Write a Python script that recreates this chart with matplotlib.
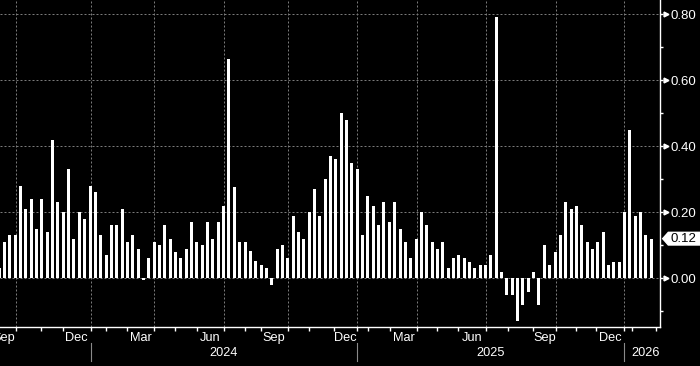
import numpy as np
import matplotlib
matplotlib.use('Agg')
from matplotlib import pyplot as plt
from matplotlib import transforms
from matplotlib.patches import Polygon

plt.rcParams['font.family'] = ['Liberation Sans', 'DejaVu Sans']

# weekly values, oldest first
values = [0.03, 0.11, 0.13, 0.13, 0.28, 0.21, 0.24, 0.15, 0.24, 0.14,
          0.42, 0.23, 0.20, 0.33, 0.12, 0.20, 0.18, 0.28, 0.26, 0.13,
          0.07, 0.16, 0.16, 0.21, 0.11, 0.13, 0.09, -0.004, 0.06, 0.11,
          0.10, 0.16, 0.12, 0.08, 0.06, 0.09, 0.17, 0.11, 0.10, 0.17,
          0.12, 0.17, 0.22, 0.665, 0.275, 0.11, 0.11, 0.083, 0.053, 0.04,
          0.03, -0.02, 0.09, 0.10, 0.06, 0.19, 0.14, 0.12, 0.20, 0.27,
          0.19, 0.30, 0.37, 0.36, 0.50, 0.48, 0.35, 0.33, 0.13, 0.25,
          0.22, 0.16, 0.23, 0.17, 0.23, 0.15, 0.11, 0.06, 0.12, 0.20,
          0.16, 0.11, 0.09, 0.11, 0.03, 0.06, 0.07, 0.06, 0.05, 0.03,
          0.04, 0.04, 0.07, 0.79, 0.02, -0.05, -0.05, -0.13, -0.08, -0.04,
          0.02, -0.08, 0.10, 0.04, 0.08, 0.13, 0.23, 0.21, 0.22, 0.16,
          0.11, 0.09, 0.11, 0.14, 0.04, 0.05, 0.05, 0.20, 0.45, 0.19,
          0.20, 0.13, 0.12]

# month starts, in bar index units (Sep 2023 ... Mar 2026)
month_ticks = [-1.3, 3.08, 7.92, 11.93, 17.11, 19.99, 23.92, 28.97, 32.9, 37.02,
               42.07, 45.98, 48.99, 53.95, 57.97, 62.65, 67.0, 69.07, 73.12, 78.18,
               81.9, 85.85, 91.03, 95.14, 99.94, 104.1, 107.9, 111.7, 116.96, 118.35,
               122.89]
month_names = ['Sep', 'Dec', 'Mar', 'Jun', 'Sep', 'Dec', 'Mar', 'Jun', 'Sep', 'Dec']
years = ['2024', '2025', '2026']
year_starts = [17.11, 67.0, 116.96]
year_pos = [42.05, 91.98, 120.9]

y_ticks = [0.0, 0.2, 0.4, 0.6, 0.8]
y_minor = [-0.1, 0.1, 0.3, 0.5, 0.7]

fig = plt.figure(figsize=(7, 3.66), dpi=100, facecolor='black')
ax = fig.add_axes([0, 1 - 326.7 / 366, 660 / 700, 326.7 / 366])
ax.set_facecolor('black')

x = np.arange(len(values))
ax.bar(x, values, width=0.56, color='white', zorder=3)

for s in ['left', 'top']:
    ax.spines[s].set_visible(False)
for s in ['right', 'bottom']:
    ax.spines[s].set_color('white')
    ax.spines[s].set_linewidth(1.0)

grid_kw = dict(color='#7a7a7a', lw=0.72, ls=(0, (2, 2)), zorder=1)
for v in y_ticks:
    ax.axhline(v, **grid_kw)
for q in month_ticks[1::3]:
    ax.axvline(q, **grid_kw)

# y axis on the right
ax.yaxis.tick_right()
ax.set_yticks(y_ticks)
ax.set_yticklabels(['%.2f' % v for v in y_ticks])
ax.set_yticks(y_minor, minor=True)
ax.tick_params(axis='y', which='both', colors='white', length=2.5, width=1,
               labelsize=9.5, pad=5)
bt = transforms.blended_transform_factory(ax.transAxes, ax.transData)
ax.plot([1 + 6 / 660] * len(y_ticks), y_ticks, transform=bt, ls='none',
        marker='>', ms=3.5, color='white', clip_on=False)

# x axis: month ticks + centred labels
ax.set_xticks(month_ticks)
ax.set_xticklabels([])
ax.tick_params(axis='x', which='major', colors='white', length=2.7, width=1)
lab_pos = [(month_ticks[i] + month_ticks[i + 1]) / 2 for i in range(0, 30, 3)]
ax.set_xticks(lab_pos, minor=True)
ax.set_xticklabels(month_names, minor=True)
ax.tick_params(axis='x', which='minor', colors='white', length=0,
               labelsize=9.2, pad=4)

# limits last, set_xticks would widen them
ax.set_xlim(0.16, 123.64)
ax.set_ylim(-0.1465, 0.8425)

bx = transforms.blended_transform_factory(ax.transData, ax.transAxes)
for xs in year_starts:
    ax.plot([xs, xs], [-0.05, -0.105], transform=bx, color='#8a8a8a', lw=0.8,
            clip_on=False)
for yp, yl in zip(year_pos, years):
    ax.text(yp, -0.081, yl, transform=bx, color='white', fontsize=9.2,
            ha='center', va='center')

# last value marker
last = values[-1]
h = 0.0192
pts = [(1 + 2.7 / 660, last), (1 + 8.3 / 660, last + h), (1 + 45 / 660, last + h),
       (1 + 45 / 660, last - h), (1 + 8.3 / 660, last - h)]
ax.add_patch(Polygon(pts, closed=True, transform=bt, facecolor='white',
                     edgecolor='white', clip_on=False, zorder=5))
ax.text(1 + 10.5 / 660, last, '%.2f' % last, transform=bt, color='black',
        fontsize=9.5, ha='left', va='center', zorder=6)

fig.savefig('out.png', dpi=100, facecolor='black')
